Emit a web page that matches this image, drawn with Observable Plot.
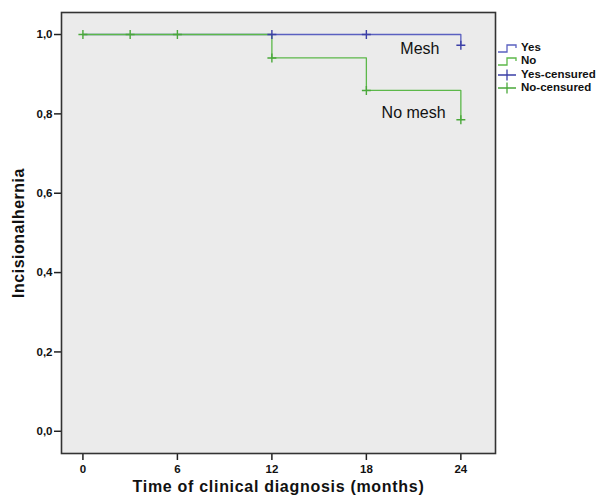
<!DOCTYPE html>
<html>
<head>
<meta charset="utf-8">
<script src="https://cdn.jsdelivr.net/npm/d3@7"></script>
<script src="https://cdn.jsdelivr.net/npm/@observablehq/plot@0.6"></script>
<style>
  html, body { margin: 0; padding: 0; background: #fff; }
  #wrap { position: relative; width: 597px; height: 499px; }
  #legend { position: absolute; left: 497px; top: 41px; font-family: "Liberation Sans", Arial, sans-serif; font-weight: bold; font-size: 11.5px; color: #111; line-height: 13.4px; }
  #legend div { display: flex; align-items: center; white-space: nowrap; }
  #legend svg { margin-right: 3px; }
</style>
</head>
<body>
<div id="wrap"></div>
<script>
// Kaplan-Meier step data
const meshTimes = [0, 24];
const meshSurv = [1.0, 0.973];
const noMeshTimes = [0, 12, 18, 24];
const noMeshSurv = [1.0, 0.941, 0.859, 0.785];
// censored observations
const meshCensTimes = [0, 3, 6, 12, 18, 24];
const meshCensSurv = [1.0, 1.0, 1.0, 1.0, 1.0, 0.973];
const noMeshCensTimes = [0, 3, 6, 12, 18, 24];
const noMeshCensSurv = [1.0, 1.0, 1.0, 0.941, 0.859, 0.785];
const xTicks = [0, 6, 12, 18, 24];
const yTicks = [0, 0.2, 0.4, 0.6, 0.8, 1.0];
const groupLabels = [{t: "Mesh", x: 21.4, y: 0.964}, {t: "No mesh", x: 21.0, y: 0.802}];
const legendItems = ["Yes", "No", "Yes-censured", "No-censured"];

const blue = "#5a60c0";
const blueDark = "#3b3fa6";
const green = "#5cb84a";
const greenDark = "#4aa83a";

const mesh = meshTimes.map((t, i) => ({t, s: meshSurv[i]}));
const noMesh = noMeshTimes.map((t, i) => ({t, s: noMeshSurv[i]}));
const meshCens = meshCensTimes.map((t, i) => ({t, s: meshCensSurv[i]}));
const noMeshCens = noMeshCensTimes.map((t, i) => ({t, s: noMeshCensSurv[i]}));

const font = "'Liberation Sans', Arial, sans-serif";
const fmt = d => d.toFixed(1).replace(".", ",");

const chart = Plot.plot({
  width: 597,
  height: 499,
  marginLeft: 61,
  marginRight: 102,
  marginTop: 12,
  marginBottom: 46,
  style: {fontFamily: font, background: "transparent", overflow: "visible"},
  x: {domain: [-1.36, 26.2]},
  y: {domain: [-0.056, 1.0555]},
  marks: [
    Plot.frame({fill: "#ebebeb", stroke: null}),
    Plot.axisX({ticks: xTicks, tickSize: 7, tickPadding: 4, tickFormat: d => String(d), fontSize: 11.5, fontWeight: "bold", stroke: "#222", strokeWidth: 1.5, fill: "#111", label: null}),
    Plot.axisY({ticks: yTicks, tickSize: 7, tickPadding: 2, tickFormat: fmt, fontSize: 11.5, fontWeight: "bold", stroke: "#222", strokeWidth: 1.5, fill: "#111", label: null}),
    Plot.lineY(mesh, {x: "t", y: "s", curve: "step-after", stroke: blue, strokeWidth: 1.3}),
    Plot.lineY(noMesh, {x: "t", y: "s", curve: "step-after", stroke: green, strokeWidth: 1.3}),
    Plot.dot(noMeshCens, {x: "t", y: "s", symbol: "plus", r: 3, stroke: greenDark, strokeWidth: 1.4}),
    Plot.dot(meshCens.filter(d => d.t >= 12), {x: "t", y: "s", symbol: "plus", r: 3, stroke: blueDark, strokeWidth: 1.4}),
    Plot.frame({stroke: "#333", strokeWidth: 1.6}),
    Plot.text(groupLabels, {x: "x", y: "y", text: "t", fontSize: 16, fill: "#111", textAnchor: "middle"}),
    Plot.text(["Incisionalhernia"], {frameAnchor: "left", textAnchor: "middle", dx: -43, rotate: -90, fontSize: 16, fontWeight: "bold", fill: "#111", style: {letterSpacing: "0.5px"}}),
    Plot.text(["Time of clinical diagnosis (months)"], {frameAnchor: "bottom", textAnchor: "middle", dy: 38, fontSize: 16, fontWeight: "bold", fill: "#111", style: {letterSpacing: "0.7px"}})
  ]
});
document.getElementById("wrap").appendChild(chart);
chart.querySelectorAll("text").forEach(t => {
  if (t.textContent === "Time of clinical diagnosis (months)" || t.textContent === "Incisionalhernia") {
    t.setAttribute("letter-spacing", t.textContent.length > 20 ? "0.7" : "0.5");
  }
});

// legend
const legend = document.createElement("div");
legend.id = "legend";
const colors = [blue, green, blueDark, greenDark];
legendItems.forEach((name, i) => {
  const row = document.createElement("div");
  const c = colors[i];
  const sym = i < 2
    ? `<svg width="21" height="12"><path d="M1,10 H10 V3 H19 V6" fill="none" stroke="${c}" stroke-width="1.3"/></svg>`
    : `<svg width="21" height="12"><path d="M1,6 H19 M10,0.5 V11.5" fill="none" stroke="${c}" stroke-width="1.3"/></svg>`;
  row.innerHTML = sym + `<span>${name}</span>`;
  legend.appendChild(row);
});
document.getElementById("wrap").appendChild(legend);
</script>
</body>
</html>
